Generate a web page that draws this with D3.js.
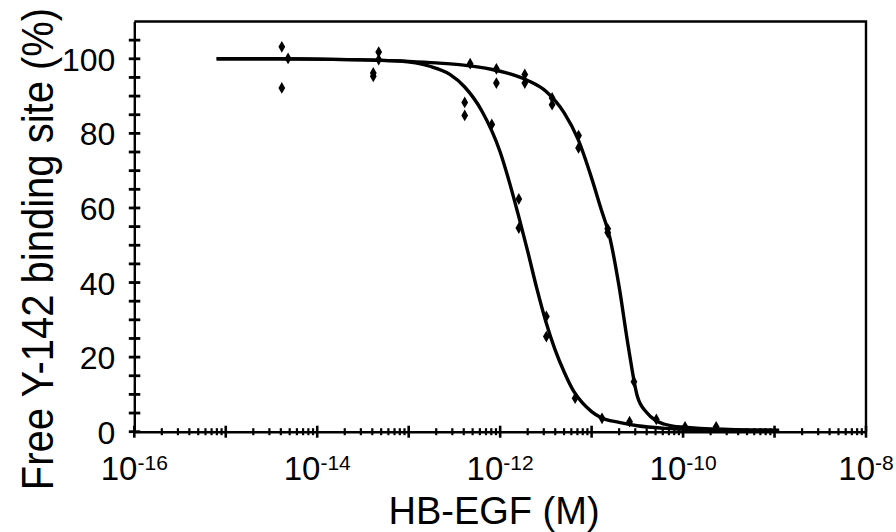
<!DOCTYPE html>
<html>
<head>
<meta charset="utf-8">
<script src="https://cdn.jsdelivr.net/npm/d3@7"></script>
<style>
  body { margin: 0; background: #fff; }
  svg { display: block; font-family: "Liberation Sans", Arial, sans-serif; }
</style>
</head>
<body>
<figure id="binding-plot" style="margin:0"></figure>
<script>
// tick exponents that get a label
const xLabelExps = [-16, -14, -12, -10, -8];
const yLabels = [0, 20, 40, 60, 80, 100];

// measured points, concentration (M) / free site (%)
const leftConc = [4.1e-15, 4.1e-15, 4.1e-14, 4.1e-14, 4.1e-13, 4.1e-13, 8.1e-13, 1.6e-12, 1.6e-12, 3.2e-12, 3.2e-12, 6.6e-12, 1.3e-11, 2.6e-11];
const leftVals = [103.2, 92.2, 96.2, 95.3, 88.3, 84.8, 82.4, 62.4, 54.6, 30.9, 25.5, 9.0, 3.6, 2.7];
const rightConc = [4.8e-15, 4.7e-14, 4.7e-14, 4.7e-13, 9.1e-13, 9.1e-13, 1.86e-12, 1.86e-12, 3.7e-12, 3.7e-12, 7.2e-12, 7.2e-12, 1.5e-11, 1.5e-11, 2.9e-11, 5.1e-11, 1.05e-10, 2.3e-10];
const rightVals = [100.1, 101.8, 99.8, 98.7, 97.3, 93.5, 95.8, 93.5, 89.5, 87.7, 79.4, 76.1, 54.4, 53.4, 13.4, 3.3, 1.3, 1.3];

// fitted curves (log10 of concentration / %)
const leftFitExp = [-15.1, -14.5, -14, -13.5, -13.1, -12.77, -12.55, -12.39, -12.2, -12.0, -11.9, -11.8, -11.7, -11.6, -11.5, -11.4, -11.3, -11.2, -11.1, -11.0, -10.9, -10.7, -10.5, -10.2, -9.8, -9.4, -8.95];
const leftFitVals = [100, 100, 99.9, 99.7, 99.4, 98, 95.8, 92.5, 86, 75, 67, 58, 48.5, 38.5, 29.5, 22, 16, 11, 7.7, 5.4, 3.8, 2.5, 1.6, 0.9, 0.5, 0.3, 0.2];
const rightFitExp = [-15.1, -14.5, -14, -13.5, -13, -12.7, -12.4, -12.1, -11.9, -11.7, -11.5, -11.3, -11.15, -11.0, -10.9, -10.8, -10.7, -10.6, -10.5, -10.4, -10.3, -10.2, -10.0, -9.5, -8.95];
const rightFitVals = [100, 100, 99.9, 99.7, 99.3, 98.9, 98.3, 97.2, 96, 94.2, 91.3, 85.5, 78.5, 68, 60, 52, 39, 23, 9.5, 5.2, 3.0, 2.0, 1.2, 0.6, 0.4];

const W = 896, H = 532;
const svg = d3.select('figure#binding-plot')
  .append('svg')
  .attr('width', W)
  .attr('height', H);

const xScale = d3.scaleLog()
  .domain([1e-16, 1e-8])
  .range([134.3, 866]);

const yScale = d3.scaleLinear()
  .domain([0, 110])
  .range([431.7, 21.5]);

const x0 = xScale(1e-16), y0 = yScale(0);

// x axis line, tick marks drawn by hand so they cross the line
const xAxis = svg.append('g')
  .attr('transform', 'translate(0,' + y0 + ')')
  .call(d3.axisBottom(xScale).tickValues([]).tickSizeOuter(0));
xAxis.select('.domain').attr('stroke', '#000').attr('stroke-width', 2.4);

const xTicks = [];
for (let e = -16; e <= -8; e++) {
  for (let m = 1; m <= 9; m++) {
    if (e === -8 && m > 1) break;
    xTicks.push({ v: m * Math.pow(10, e), major: m === 1 });
  }
}
svg.append('g')
  .selectAll('line')
  .data(xTicks)
  .join('line')
  .attr('x1', d => xScale(d.v))
  .attr('x2', d => xScale(d.v))
  .attr('y1', d => y0 - (d.major ? 6 : 3.5))
  .attr('y2', d => y0 + (d.major ? 6 : 3.5))
  .attr('stroke', '#000')
  .attr('stroke-width', d => d.major ? 2.6 : 2.2);

// x labels 10^n
const xLab = svg.append('g')
  .selectAll('text')
  .data(xLabelExps)
  .join('text')
  .attr('x', d => xScale(Math.pow(10, d)))
  .attr('y', 480)
  .attr('text-anchor', 'middle')
  .attr('fill', '#000');
xLab.append('tspan').attr('font-size', 33).text('10');
xLab.append('tspan').attr('font-size', 21).attr('dy', -10).text(d => d);

// y axis, labels every 20, ticks every 5
const yAxis = svg.append('g')
  .attr('transform', 'translate(' + x0 + ',0)')
  .call(d3.axisLeft(yScale).tickValues(yLabels).tickSize(0).tickPadding(19).tickSizeOuter(0));
yAxis.select('.domain').attr('stroke', '#000').attr('stroke-width', 2.4);
yAxis.selectAll('.tick text')
  .attr('font-size', 32)
  .attr('font-family', '"Liberation Sans", Arial, sans-serif')
  .attr('fill', '#000')
  .attr('dy', '0.36em');

svg.append('g')
  .selectAll('line')
  .data(d3.range(0, 110, 5))
  .join('line')
  .attr('x1', x0 - 5.5)
  .attr('x2', x0 + 6)
  .attr('y1', d => yScale(d))
  .attr('y2', d => yScale(d))
  .attr('stroke', '#000')
  .attr('stroke-width', 2.8);

// frame top + right
svg.append('path')
  .attr('d', d3.line()([[x0, yScale(110)], [xScale(1e-8), yScale(110)], [xScale(1e-8), y0]]))
  .attr('fill', 'none')
  .attr('stroke', '#000')
  .attr('stroke-width', 2.4);

// fitted curves
const fitLine = d3.line()
  .x(d => xScale(Math.pow(10, d[0])))
  .y(d => yScale(d[1]))
  .curve(d3.curveMonotoneX);

svg.append('g')
  .selectAll('path')
  .data([d3.zip(leftFitExp, leftFitVals), d3.zip(rightFitExp, rightFitVals)])
  .join('path')
  .attr('d', fitLine)
  .attr('fill', 'none')
  .attr('stroke', '#000')
  .attr('stroke-width', 3.4)
  .attr('stroke-linejoin', 'round');

// data markers
const pts = d3.zip(leftConc, leftVals).concat(d3.zip(rightConc, rightVals));
svg.append('g')
  .selectAll('path')
  .data(pts)
  .join('path')
  .attr('d', d3.symbol(d3.symbolDiamond, 40))
  .attr('transform', d => 'translate(' + xScale(d[0]) + ',' + yScale(d[1]) + ')')
  .attr('fill', '#000');

// axis titles
svg.append('text')
  .attr('x', 494)
  .attr('y', 524)
  .attr('text-anchor', 'middle')
  .attr('font-size', 38)
  .attr('fill', '#000')
  .text('HB-EGF (M)');

svg.append('text')
  .attr('transform', 'translate(53,249) rotate(-90) scale(1,1.12)')
  .attr('text-anchor', 'middle')
  .attr('font-size', 40)
  .attr('fill', '#000')
  .text('Free Y-142 binding site (%)');
</script>
</body>
</html>
